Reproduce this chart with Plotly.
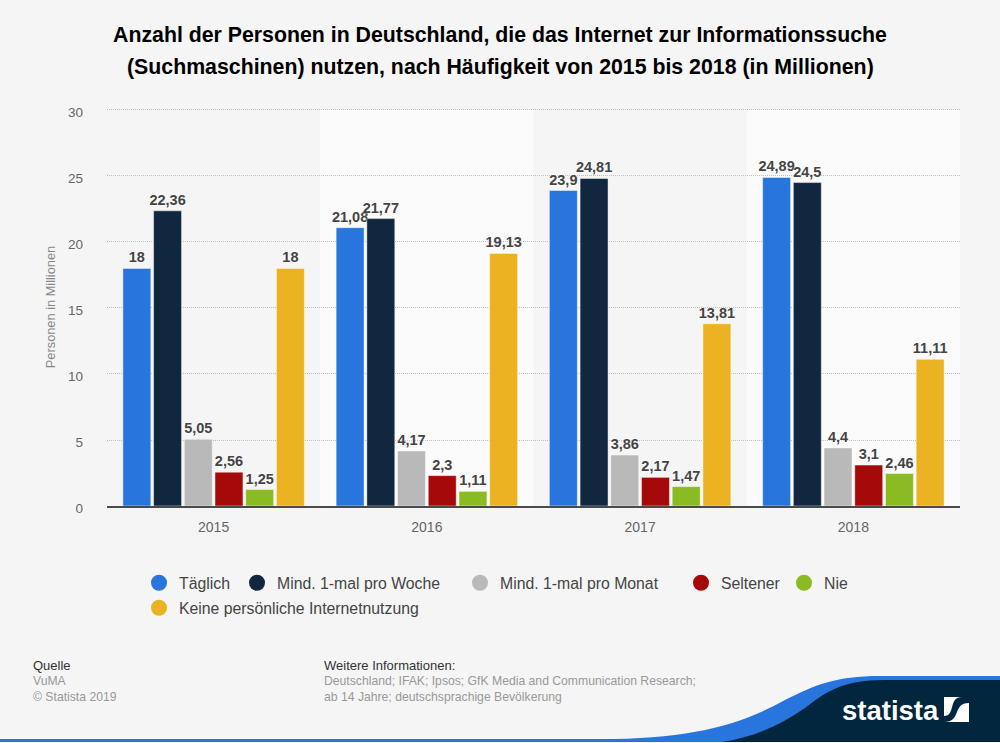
import plotly.graph_objects as go

YEARS = ["2015", "2016", "2017", "2018"]

TAEGLICH = [18, 21.08, 23.9, 24.89]
WOCHE = [22.36, 21.77, 24.81, 24.5]
MONAT = [5.05, 4.17, 3.86, 4.4]
SELTENER = [2.56, 2.3, 2.17, 3.1]
NIE = [1.25, 1.11, 1.47, 2.46]
KEINE = [18, 19.13, 13.81, 11.11]

SERIES = [
    ("Täglich", TAEGLICH, "#2975de", 159, 583),
    ("Mind. 1-mal pro Woche", WOCHE, "#10273f", 257, 583),
    ("Mind. 1-mal pro Monat", MONAT, "#b9b9b9", 480, 583),
    ("Seltener", SELTENER, "#a60909", 701, 583),
    ("Nie", NIE, "#8abb22", 804, 583),
    ("Keine persönliche Internetnutzung", KEINE, "#ebb322", 159, 608),
]

TITLE_LINES = [
    "Anzahl der Personen in Deutschland, die das Internet zur Informationssuche",
    "(Suchmaschinen) nutzen, nach Häufigkeit von 2015 bis 2018 (in Millionen)",
]

FONT = "Liberation Sans"
W, H = 1000, 743
# top edge sits 2px above the 30 line, plotly drops gridlines right at the axis end
LEFT, RIGHT, TOP, BOTTOM = 107, 960, 108, 506
Y_MAX = 30.15


def px(x):
    return (x - LEFT) / (RIGHT - LEFT)


def py(y):
    return (BOTTOM - y) / (BOTTOM - TOP)


def path(points):
    """Turn pixel commands into a paper-coordinate SVG path."""
    out = []
    for cmd, *coords in points:
        pairs = [f"{px(coords[i]):.5f},{py(coords[i + 1]):.5f}" for i in range(0, len(coords), 2)]
        out.append(cmd + " ".join(pairs))
    return " ".join(out) + " Z"


def de(v):
    return f"{v:g}".replace(".", ",")


fig = go.Figure()

# Bars
for name, values, color, _, _ in SERIES:
    fig.add_trace(go.Bar(
        x=YEARS, y=values, name=name, showlegend=False,
        marker={"color": color, "line": {"color": "rgba(255,255,255,0.45)", "width": 1}},
        text=[de(v) for v in values],
        textposition="outside", constraintext="none", cliponaxis=False,
        textfont={"family": FONT, "size": 14.5, "color": "#444444", "weight": "bold",
                  "shadow": "0px 0px 3px #ffffff"},
    ))

# Legend: one small legend per entry, the spacing in the original is irregular
layout_legends = {}
for i, (name, _, color, mx, my) in enumerate(SERIES):
    key = "legend" if i == 0 else f"legend{i + 1}"
    fig.add_trace(go.Scatter(
        x=[None], y=[None], mode="markers", name=name, legend=key,
        marker={"color": color, "size": 16}, showlegend=True, hoverinfo="skip",
    ))
    layout_legends[key] = dict(
        x=px(mx - 20), y=py(my), xanchor="left", yanchor="middle",
        bgcolor="rgba(0,0,0,0)", borderwidth=0, itemsizing="trace",
        font={"family": FONT, "size": 15.8, "color": "#444444"},
    )

shapes = []
# Alternating column bands
for x0 in (0.5, 2.5):
    shapes.append(dict(type="rect", xref="x", yref="y", x0=x0, x1=x0 + 1, y0=0, y1=30,
                       fillcolor="#fbfbfb", line_width=0, layer="below"))
# Footer wave
shapes.append(dict(type="path", xref="paper", yref="paper", layer="above", line_width=0, fillcolor="#2975de",
                   path=path([("M", 0, 739), ("L", 600, 739), ("C", 690, 739, 740, 725, 785, 700),
                              ("C", 815, 685, 835, 676, 880, 676), ("L", 1000, 676), ("L", 1000, 742),
                              ("L", 0, 742)])))
shapes.append(dict(type="path", xref="paper", yref="paper", layer="above", line_width=0, fillcolor="#03263f",
                   path=path([("M", 722, 742), ("C", 755, 737, 780, 725, 805, 708),
                              ("C", 825, 693, 840, 680, 885, 680), ("L", 1000, 680), ("L", 1000, 742)])))
# Logo mark
shapes.append(dict(type="rect", xref="paper", yref="paper", layer="above", line_width=0, fillcolor="#ffffff",
                   x0=px(944), x1=px(969), y0=py(722), y1=py(697)))
shapes.append(dict(type="path", xref="paper", yref="paper", layer="above", line_width=0, fillcolor="#03263f",
                   path=path([("M", 944, 722), ("C", 962, 722, 952, 703, 969, 703), ("L", 969, 697),
                              ("L", 962, 697), ("C", 948, 697, 956, 716, 944, 716)])))


def note(text, x, y, size=12, color="#999999", weight="normal"):
    return dict(text=text, xref="paper", yref="paper", x=px(x), y=py(y), xanchor="left", yanchor="middle",
                showarrow=False, font={"family": FONT, "size": size, "color": color, "weight": weight})


annotations = [
    note("Quelle", 31, 665, 13, "#333333"),
    note("VuMA", 31, 681, 12.2),
    note("© Statista 2019", 31, 697, 12.2),
    note("Weitere Informationen:", 322, 665, 13, "#333333"),
    note("Deutschland; IFAK; Ipsos; GfK Media and Communication Research;", 322, 681, 12.2),
    note("ab 14 Jahre; deutschsprachige Bevölkerung", 322, 697, 12.2),
    note("statista", 840, 710, 27.5, "#ffffff", "bold"),
]
for line, y in zip(TITLE_LINES, (35, 67)):
    annotations.append(dict(text=line, xref="paper", yref="paper", x=px(500), y=py(y), xanchor="center",
                            yanchor="middle", showarrow=False,
                            font={"family": FONT, "size": 21.3, "color": "#000000", "weight": "bold"}))

fig.update_layout(
    width=W, height=H,
    margin={"l": LEFT, "r": W - RIGHT, "t": TOP, "b": H - BOTTOM, "pad": 0},
    paper_bgcolor="#f5f5f5", plot_bgcolor="#f5f5f5",
    barmode="group", bargap=0.136, bargroupgap=0.09,
    font={"family": FONT, "color": "#666666"},
    shapes=shapes, annotations=annotations,
    **layout_legends,
)
fig.update_xaxes(
    type="category", categoryorder="array", categoryarray=YEARS,
    range=[-0.5, 3.5], showgrid=False, showline=True, linecolor="#4a4a4a", linewidth=2,
    ticks="", ticklabelstandoff=7, tickfont={"family": FONT, "size": 14, "color": "#666666"},
    zeroline=False,
)
fig.update_yaxes(
    range=[0, Y_MAX], tickvals=[0, 5, 10, 15, 20, 25, 30], showgrid=True,
    gridcolor="#bdbdbd", griddash="1px,1px", gridwidth=1, zeroline=False,
    ticks="", ticklabelstandoff=23, ticklabelshift=2,
    tickfont={"family": FONT, "size": 13.5, "color": "#666666"},
    title={"text": "Personen in Millionen", "font": {"family": FONT, "size": 12.8, "color": "#888888"}, "standoff": 9},
)

# the page's default body margin would shift the whole figure by 8px
fig.write_html("out.html", config={"displayModeBar": False}, post_script="document.body.style.margin = '0';")
